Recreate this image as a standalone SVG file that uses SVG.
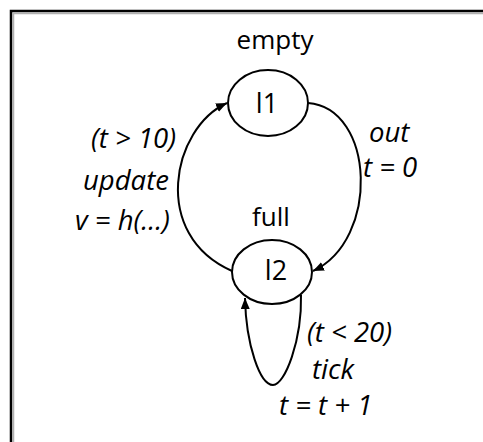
<svg xmlns="http://www.w3.org/2000/svg" width="483" height="442" viewBox="0 0 483 442">
  <style>
    .node { fill: #ffffff; stroke: #000000; stroke-width: 2; }
    .edge { fill: none; stroke: #000000; stroke-width: 2; }
    .name { font-family: "Open Sans", "DejaVu Sans", sans-serif; font-size: 26px; fill: #000000; text-anchor: middle; }
    .id { font-family: "Open Sans", "DejaVu Sans", sans-serif; font-size: 27px; fill: #000000; text-anchor: middle; }
    .lbl { font-family: "Open Sans", "DejaVu Sans", sans-serif; font-size: 27.5px; font-style: italic; fill: #000000; }
  </style>
  <defs>
    <marker id="arrow" markerUnits="userSpaceOnUse" markerWidth="12" markerHeight="10" refX="11" refY="4.5" orient="auto">
      <path d="M0,0 L11,4.5 L0,9 Z" fill="#000000"/>
    </marker>
  </defs>
  <rect width="483" height="442" fill="#ffffff"/>
  <path d="M13.5,442 V13.5 H483" fill="none" stroke="#b0b0b0" stroke-width="1.5"/>
  <path d="M11,442 V11 H483" fill="none" stroke="#000000" stroke-width="2.5"/>

  <g id="connectors">
    <path class="edge" d="M232,271 C150,235 172,128 227,103" marker-end="url(#arrow)"/>
    <path class="edge" d="M308,103 C375,108 380,240 313,271" marker-end="url(#arrow)"/>
    <path class="edge" d="M301,295 C302,340 285,385 273,385 C260,385 246,345 245,298" marker-end="url(#arrow)"/>
  </g>

  <g id="l1">
    <ellipse class="node" cx="268" cy="103" rx="40" ry="33"/>
    <text class="id" x="267" y="113">l1</text>
    <text class="name" x="275" y="49">empty</text>
  </g>
  <g id="l2">
    <ellipse class="node" cx="272" cy="272" rx="40" ry="32"/>
    <text class="id" x="276" y="280">l2</text>
    <text class="name" x="271" y="226">full</text>
  </g>

  <g id="labels">
    <text class="lbl" x="91" y="148">(t &gt; 10)</text>
    <text class="lbl" x="83" y="190">update</text>
    <text class="lbl" x="75" y="230">v = h(...)</text>
    <text class="lbl" x="369" y="142">out</text>
    <text class="lbl" x="363" y="177">t = 0</text>
    <text class="lbl" x="307" y="342">(t &lt; 20)</text>
    <text class="lbl" x="312" y="379">tick</text>
    <text class="lbl" x="279" y="414.5">t = t + 1</text>
  </g>
</svg>
